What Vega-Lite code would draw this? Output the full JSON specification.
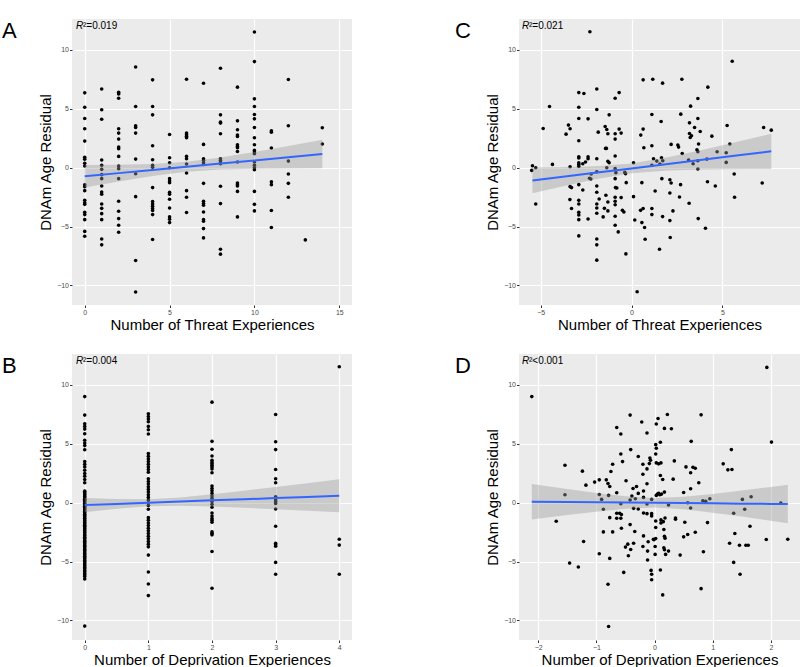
{
  "$schema": "https://vega.github.io/schema/vega-lite/v6.json",
  "background": "white",
  "padding": {"left": 2, "top": 19, "right": 0, "bottom": 0},
  "columns": 2,
  "spacing": {"row": 49, "column": 167},
  "bounds": "flush",
  "config": {
    "font": "Liberation Sans",
    "view": {"fill": "#EBEBEB", "stroke": null},
    "axis": {"domain": false, "grid": true, "gridColor": "#FFFFFF", "gridWidth": 1.2, "tickColor": "#333333", "tickSize": 2.5, "labelColor": "#4D4D4D", "labelFontSize": 7, "labelPadding": 1, "titleFontSize": 15, "titleFontWeight": "normal", "titleColor": "#000000"},
    "axisX": {"titlePadding": 1.5},
    "axisY": {"titlePadding": 3},
    "title": {"fontSize": 22, "fontWeight": "normal", "color": "#000000", "anchor": "start", "frame": "group", "baseline": "alphabetic", "offset": 0}
  },
  "datasets": {
    "A": [
      {"x":0,"y":6.36},{"x":0,"y":5.14},{"x":0,"y":4.18},{"x":0,"y":3.31},{"x":0,"y":2.26},{"x":0,"y":0.88},{"x":0,"y":0.72},{"x":0,"y":0.38},{"x":0,"y":0.15},{"x":0,"y":-1.45},{"x":0,"y":-1.62},{"x":0,"y":-1.95},{"x":0,"y":-2.77},{"x":0,"y":-2.97},{"x":0,"y":-3.11},{"x":0,"y":-3.78},{"x":0,"y":-3.98},{"x":0,"y":-4.41},{"x":0,"y":-5.41},{"x":0,"y":-5.82},
      {"x":1,"y":6.69},{"x":1,"y":4.92},{"x":1,"y":4.12},{"x":1,"y":0.65},{"x":1,"y":0.2},{"x":1,"y":-0.14},{"x":1,"y":-0.59},{"x":1,"y":-0.93},{"x":1,"y":-1.55},{"x":1,"y":-2.06},{"x":1,"y":-2.26},{"x":1,"y":-3.08},{"x":1,"y":-3.45},{"x":1,"y":-3.9},{"x":1,"y":-4.41},{"x":1,"y":-6.05},{"x":1,"y":-6.55},
      {"x":2,"y":6.41},{"x":2,"y":6.27},{"x":2,"y":5.9},{"x":2,"y":3.31},{"x":2,"y":2.94},{"x":2,"y":2.43},{"x":2,"y":1.75},{"x":2,"y":1.61},{"x":2,"y":0.96},{"x":2,"y":0.14},{"x":2,"y":-0.08},{"x":2,"y":-0.93},{"x":2,"y":-2.85},{"x":2,"y":-3.7},{"x":2,"y":-4.32},{"x":2,"y":-4.89},{"x":2,"y":-5.48},
      {"x":3,"y":8.55},{"x":3,"y":5.2},{"x":3,"y":3.56},{"x":3,"y":3.42},{"x":3,"y":2.94},{"x":3,"y":0.73},{"x":3,"y":-0.51},{"x":3,"y":-2.46},{"x":3,"y":-7.88},{"x":3,"y":-10.56},
      {"x":4,"y":7.46},{"x":4,"y":5.2},{"x":4,"y":4.49},{"x":4,"y":1.86},{"x":4,"y":0.68},{"x":4,"y":0.2},{"x":4,"y":0.03},{"x":4,"y":-1.69},{"x":4,"y":-2.88},{"x":4,"y":-3.08},{"x":4,"y":-3.28},{"x":4,"y":-3.47},{"x":4,"y":-3.64},{"x":4,"y":-3.98},{"x":4,"y":-6.1},
      {"x":5,"y":2.82},{"x":5,"y":0.85},{"x":5,"y":0.42},{"x":5,"y":0.0},{"x":5,"y":-0.93},{"x":5,"y":-1.13},{"x":5,"y":-1.27},{"x":5,"y":-2.09},{"x":5,"y":-2.26},{"x":5,"y":-2.68},{"x":5,"y":-3.42},{"x":5,"y":-4.18},{"x":5,"y":-4.38},{"x":5,"y":-4.66},
      {"x":6,"y":7.51},{"x":6,"y":2.94},{"x":6,"y":2.8},{"x":6,"y":2.68},{"x":6,"y":2.54},{"x":6,"y":0.96},{"x":6,"y":0.76},{"x":6,"y":0.31},{"x":6,"y":-0.45},{"x":6,"y":-1.95},{"x":6,"y":-2.51},{"x":6,"y":-3.81},
      {"x":7,"y":7.17},{"x":7,"y":1.98},{"x":7,"y":0.76},{"x":7,"y":0.62},{"x":7,"y":0.42},{"x":7,"y":0.28},{"x":7,"y":-1.33},{"x":7,"y":-2.85},{"x":7,"y":-3.05},{"x":7,"y":-3.19},{"x":7,"y":-3.76},{"x":7,"y":-4.41},{"x":7,"y":-4.55},{"x":7,"y":-5.17},{"x":7,"y":-5.96},
      {"x":8,"y":8.45},{"x":8,"y":4.49},{"x":8,"y":3.87},{"x":8,"y":3.79},{"x":8,"y":2.88},{"x":8,"y":0.76},{"x":8,"y":0.62},{"x":8,"y":0.48},{"x":8,"y":0.34},{"x":8,"y":-1.58},{"x":8,"y":-3.05},{"x":8,"y":-6.92},{"x":8,"y":-7.34},
      {"x":9,"y":6.84},{"x":9,"y":3.98},{"x":9,"y":3.22},{"x":9,"y":2.77},{"x":9,"y":2.66},{"x":9,"y":1.95},{"x":9,"y":1.81},{"x":9,"y":1.69},{"x":9,"y":1.38},{"x":9,"y":0.48},{"x":9,"y":-1.3},{"x":9,"y":-1.44},{"x":9,"y":-1.55},{"x":9,"y":-2.01},{"x":9,"y":-4.18},
      {"x":10,"y":11.53},{"x":10,"y":9.01},{"x":10,"y":5.85},{"x":10,"y":5.2},{"x":10,"y":4.52},{"x":10,"y":4.15},{"x":10,"y":3.42},{"x":10,"y":2.54},{"x":10,"y":1.95},{"x":10,"y":1.47},{"x":10,"y":1.33},{"x":10,"y":1.19},{"x":10,"y":0.48},{"x":10,"y":0.2},{"x":10,"y":0.0},{"x":10,"y":-0.17},{"x":10,"y":-2.01},{"x":10,"y":-3.11},{"x":10,"y":-3.67},
      {"x":11,"y":3.14},{"x":11,"y":3.02},{"x":11,"y":1.67},{"x":11,"y":-1.19},{"x":11,"y":-1.44},{"x":11,"y":-3.64},{"x":11,"y":-5.08},
      {"x":12,"y":7.49},{"x":12,"y":3.56},{"x":12,"y":0.56},{"x":12,"y":-0.54},{"x":12,"y":-1.33},{"x":12,"y":-2.51},
      {"x":13,"y":-6.13},
      {"x":14,"y":3.39},{"x":14,"y":2.01}
    ],
    "Aband": [
      {"x":0,"lo":-1.68,"fit":-0.73,"hi":0.22},{"x":2,"lo":-1.17,"fit":-0.46,"hi":0.25},{"x":4,"lo":-0.70,"fit":-0.19,"hi":0.32},{"x":6,"lo":-0.34,"fit":0.08,"hi":0.50},{"x":8,"lo":-0.16,"fit":0.35,"hi":0.86},{"x":10,"lo":-0.09,"fit":0.62,"hi":1.33},{"x":12,"lo":-0.06,"fit":0.89,"hi":1.84},{"x":14,"lo":-0.05,"fit":1.16,"hi":2.37}
    ],
    "B": [
      {"x":0,"y":9.01},{"x":0,"y":7.44},{"x":0,"y":6.7},{"x":0,"y":6.48},{"x":0,"y":6.25},{"x":0,"y":5.86},{"x":0,"y":5.3},{"x":0,"y":5.07},{"x":0,"y":4.85},{"x":0,"y":4.5},{"x":0,"y":3.49},{"x":0,"y":3.27},{"x":0,"y":3.04},{"x":0,"y":2.76},{"x":0,"y":2.48},{"x":0,"y":2.25},{"x":0,"y":1.97},{"x":0,"y":1.69},
      {"x":0,"y":0.98},{"x":0,"y":0.86},{"x":0,"y":0.74},{"x":0,"y":0.65},{"x":0,"y":0.52},{"x":0,"y":0.41},{"x":0,"y":0.30},{"x":0,"y":0.18},{"x":0,"y":0.08},{"x":0,"y":-0.05},{"x":0,"y":-0.16},{"x":0,"y":-0.29},{"x":0,"y":-0.40},{"x":0,"y":-0.52},{"x":0,"y":-0.61},{"x":0,"y":-0.75},{"x":0,"y":-0.86},{"x":0,"y":-0.99},{"x":0,"y":-1.11},{"x":0,"y":-1.20},{"x":0,"y":-1.33},{"x":0,"y":-1.46},{"x":0,"y":-1.55},{"x":0,"y":-1.68},{"x":0,"y":-1.79},{"x":0,"y":-1.91},{"x":0,"y":-2.02},{"x":0,"y":-2.14},{"x":0,"y":-2.23},{"x":0,"y":-2.37},{"x":0,"y":-2.48},{"x":0,"y":-2.58},{"x":0,"y":-2.72},{"x":0,"y":-2.81},{"x":0,"y":-2.94},{"x":0,"y":-3.05},{"x":0,"y":-3.17},{"x":0,"y":-3.27},{"x":0,"y":-3.40},{"x":0,"y":-3.50},{"x":0,"y":-3.63},{"x":0,"y":-3.75},{"x":0,"y":-3.84},{"x":0,"y":-3.98},{"x":0,"y":-4.08},{"x":0,"y":-4.19},{"x":0,"y":-4.32},{"x":0,"y":-4.42},{"x":0,"y":-4.55},{"x":0,"y":-4.67},{"x":0,"y":-4.77},{"x":0,"y":-4.90},{"x":0,"y":-5.02},{"x":0,"y":-5.12},{"x":0,"y":-5.26},{"x":0,"y":-5.37},{"x":0,"y":-5.51},{"x":0,"y":-5.61},{"x":0,"y":-5.76},{"x":0,"y":-5.86},{"x":0,"y":-6.01},{"x":0,"y":-6.14},{"x":0,"y":-6.27},{"x":0,"y":-6.48},{"x":0,"y":-10.48},
      {"x":1,"y":7.55},{"x":1,"y":7.32},{"x":1,"y":7.1},{"x":1,"y":6.87},{"x":1,"y":6.48},{"x":1,"y":6.2},{"x":1,"y":5.83},{"x":1,"y":4.17},{"x":1,"y":3.94},{"x":1,"y":3.72},{"x":1,"y":3.49},{"x":1,"y":3.27},{"x":1,"y":3.04},{"x":1,"y":2.82},{"x":1,"y":2.59},{"x":1,"y":2.03},{"x":1,"y":1.8},{"x":1,"y":1.58},{"x":1,"y":1.35},{"x":1,"y":1.13},{"x":1,"y":0.9},{"x":1,"y":0.68},{"x":1,"y":0.45},{"x":1,"y":0.23},{"x":1,"y":0.0},{"x":1,"y":-0.23},{"x":1,"y":-0.56},{"x":1,"y":-1.27},{"x":1,"y":-1.49},{"x":1,"y":-1.72},{"x":1,"y":-1.94},{"x":1,"y":-2.17},{"x":1,"y":-2.39},{"x":1,"y":-2.62},{"x":1,"y":-2.85},{"x":1,"y":-3.07},{"x":1,"y":-3.3},{"x":1,"y":-3.52},{"x":1,"y":-3.75},{"x":1,"y":-4.45},{"x":1,"y":-5.89},{"x":1,"y":-6.9},{"x":1,"y":-7.89},
      {"x":2,"y":8.54},{"x":2,"y":5.21},{"x":2,"y":4.54},{"x":2,"y":3.97},{"x":2,"y":3.61},{"x":2,"y":3.46},{"x":2,"y":3.32},{"x":2,"y":3.18},{"x":2,"y":3.04},{"x":2,"y":2.87},{"x":2,"y":2.54},{"x":2,"y":1.41},{"x":2,"y":1.21},{"x":2,"y":1.01},{"x":2,"y":0.79},{"x":2,"y":0.56},{"x":2,"y":0.37},{"x":2,"y":0.11},{"x":2,"y":-0.14},{"x":2,"y":-0.39},{"x":2,"y":-0.87},{"x":2,"y":-1.13},{"x":2,"y":-1.35},{"x":2,"y":-1.49},{"x":2,"y":-1.66},{"x":2,"y":-2.48},{"x":2,"y":-2.62},{"x":2,"y":-2.73},{"x":2,"y":-4.14},{"x":2,"y":-7.27},
      {"x":3,"y":7.49},{"x":3,"y":5.18},{"x":3,"y":4.51},{"x":3,"y":2.82},{"x":3,"y":2.03},{"x":3,"y":1.69},{"x":3,"y":0.51},{"x":3,"y":0.37},{"x":3,"y":0.23},{"x":3,"y":0.08},{"x":3,"y":-0.06},{"x":3,"y":-0.54},{"x":3,"y":-2.0},{"x":3,"y":-3.44},{"x":3,"y":-3.58},{"x":3,"y":-3.69},{"x":3,"y":-5.07},{"x":3,"y":-6.08},
      {"x":4,"y":11.55},{"x":4,"y":-3.1},{"x":4,"y":-3.6},{"x":4,"y":-6.08}
    ],
    "Bband": [
      {"x":0,"lo":-0.80,"fit":-0.20,"hi":0.40},{"x":0.5,"lo":-0.51,"fit":-0.10,"hi":0.31},{"x":1,"lo":-0.31,"fit":0.0,"hi":0.30},{"x":1.5,"lo":-0.26,"fit":0.10,"hi":0.45},{"x":2,"lo":-0.33,"fit":0.20,"hi":0.72},{"x":2.5,"lo":-0.43,"fit":0.29,"hi":1.02},{"x":3,"lo":-0.56,"fit":0.39,"hi":1.34},{"x":3.5,"lo":-0.68,"fit":0.49,"hi":1.66},{"x":4,"lo":-0.81,"fit":0.59,"hi":1.99}
    ],
    "C": [
      {"x":-2.29,"y":11.55},{"x":-2.9,"y":6.38},{"x":-2.62,"y":6.3},{"x":-1.91,"y":6.69},{"x":-4.51,"y":5.2},{"x":-2.9,"y":5.14},{"x":-1.91,"y":4.94},{"x":-0.9,"y":5.9},{"x":-0.68,"y":6.38},{"x":-2.9,"y":4.18},{"x":-2.39,"y":4.15},{"x":-1.23,"y":4.49},{"x":-4.86,"y":3.33},{"x":-3.47,"y":3.62},{"x":-3.38,"y":3.31},{"x":-3.6,"y":2.85},{"x":-1.83,"y":3.02},{"x":-1.45,"y":3.5},{"x":-1.36,"y":3.25},{"x":-1.3,"y":2.88},{"x":-0.9,"y":2.88},{"x":-0.68,"y":3.28},{"x":-0.57,"y":2.94},{"x":-0.9,"y":2.43},{"x":-1.43,"y":1.64},{"x":-1.38,"y":1.64},{"x":-2.9,"y":2.29},{"x":-0.9,"y":0.99},{"x":-1.91,"y":0.76},{"x":-2.9,"y":0.93},{"x":-2.9,"y":0.82},{"x":-2.9,"y":0.42},{"x":-2.9,"y":0.28},{"x":-2.9,"y":0.11},{"x":-2.68,"y":0.34},{"x":-2.53,"y":0.48},{"x":-2.39,"y":0.93},{"x":-2.39,"y":0.76},{"x":-3.38,"y":0.08},{"x":-4.35,"y":0.28},{"x":-5.45,"y":0.17},{"x":-5.49,"y":-0.23},{"x":-5.27,"y":0.0},{"x":-5.27,"y":-3.08},{"x":-3.38,"y":-1.61},{"x":-3.3,"y":-1.69},{"x":-2.9,"y":-1.44},{"x":-2.68,"y":-1.89},{"x":-3.39,"y":-2.71},{"x":-3.3,"y":-3.47},{"x":-2.9,"y":-2.77},{"x":-2.9,"y":-3.08},{"x":-2.9,"y":-3.79},{"x":-2.9,"y":-4.01},{"x":-2.9,"y":-4.41},{"x":-2.39,"y":-4.35},{"x":-2.9,"y":-5.79},{"x":-2.31,"y":-0.9},{"x":-2.24,"y":-0.96},{"x":-1.91,"y":-0.34},{"x":-2.22,"y":-0.54},{"x":-1.91,"y":-1.55},{"x":-1.91,"y":-2.09},{"x":-1.78,"y":-2.66},{"x":-1.91,"y":-3.08},{"x":-1.91,"y":-3.42},{"x":-1.91,"y":-3.87},{"x":-1.56,"y":-4.18},{"x":-1.91,"y":-6.05},{"x":-1.91,"y":-6.55},{"x":-1.91,"y":-7.85},{"x":-1.3,"y":0.54},{"x":-1.23,"y":0.42},{"x":-1.36,"y":0.0},{"x":-1.41,"y":-2.34},{"x":-1.3,"y":-2.91},{"x":-1.49,"y":-3.45},{"x":-1.3,"y":-3.67},{"x":-0.9,"y":-0.08},{"x":-0.86,"y":-0.42},{"x":-0.9,"y":-0.93},{"x":-0.88,"y":-1.69},{"x":-0.9,"y":-2.51},{"x":-0.9,"y":-2.85},{"x":-0.9,"y":-3.14},{"x":-0.9,"y":-4.12},{"x":-0.9,"y":-4.89},{"x":-0.73,"y":-5.45},{"x":-0.81,"y":-1.72},{"x":-0.57,"y":-2.54},{"x":-0.5,"y":-3.62},{"x":-0.42,"y":-3.76},{"x":-0.37,"y":-0.4},{"x":-0.33,"y":-0.51},{"x":-0.31,"y":-7.32},{"x":-0.29,"y":-1.27},{"x":0.11,"y":0.42},{"x":0.11,"y":-2.46},{"x":0.18,"y":-4.44},{"x":0.31,"y":-10.54},{"x":0.5,"y":-3.62},{"x":0.64,"y":-3.47},{"x":0.57,"y":-4.66},{"x":0.72,"y":-5.08},{"x":0.75,"y":-6.07},{"x":0.57,"y":-1.27},{"x":1.3,"y":-1.98},{"x":0.64,"y":7.46},{"x":1.17,"y":7.51},{"x":1.12,"y":4.52},{"x":0.64,"y":3.28},{"x":0.51,"y":2.77},{"x":0.68,"y":1.69},{"x":1.12,"y":1.86},{"x":1.21,"y":0.76},{"x":1.12,"y":0.2},{"x":1.54,"y":-6.92},{"x":1.12,"y":-3.47},{"x":1.12,"y":-3.98},
      {"x":5.54,"y":9.04},{"x":1.71,"y":7.18},{"x":2.77,"y":7.51},{"x":4.2,"y":6.84},{"x":3.65,"y":5.88},{"x":3.25,"y":5.23},{"x":2.71,"y":4.55},{"x":3.65,"y":4.18},{"x":1.63,"y":3.93},{"x":3.19,"y":3.81},{"x":3.47,"y":3.42},{"x":3.19,"y":2.91},{"x":3.3,"y":2.71},{"x":3.23,"y":2.57},{"x":3.78,"y":3.08},{"x":4.42,"y":2.68},{"x":5.26,"y":3.59},{"x":7.27,"y":3.42},{"x":7.69,"y":3.19},{"x":5.41,"y":2.01},{"x":2.18,"y":1.98},{"x":2.55,"y":1.92},{"x":2.59,"y":1.75},{"x":3.69,"y":2.01},{"x":2.79,"y":1.21},{"x":3.6,"y":1.53},{"x":3.65,"y":1.36},{"x":4.71,"y":1.36},{"x":5.21,"y":1.27},{"x":4.15,"y":0.73},{"x":3.14,"y":0.65},{"x":3.39,"y":0.34},{"x":3.65,"y":0.59},{"x":5.21,"y":0.45},{"x":3.65,"y":-0.11},{"x":1.65,"y":0.85},{"x":1.72,"y":0.59},{"x":1.39,"y":0.56},{"x":1.56,"y":0.31},{"x":1.67,"y":-0.93},{"x":2.11,"y":-1.02},{"x":2.18,"y":-1.3},{"x":2.7,"y":-1.44},{"x":4.18,"y":-1.19},{"x":4.61,"y":-1.55},{"x":5.65,"y":-0.54},{"x":7.19,"y":-1.3},{"x":5.67,"y":-2.51},{"x":2.11,"y":-2.15},{"x":2.64,"y":-2.49},{"x":3.17,"y":-3.02},{"x":2.28,"y":-3.67},{"x":1.71,"y":-4.15},{"x":2.11,"y":-4.49},{"x":3.67,"y":-4.32},{"x":4.07,"y":-5.14},{"x":2.13,"y":-5.93}
    ],
    "Cband": [
      {"x":-5.45,"lo":-2.17,"fit":-1.08,"hi":0.02},{"x":-4,"lo":-1.67,"fit":-0.81,"hi":0.04},{"x":-2,"lo":-0.99,"fit":-0.43,"hi":0.13},{"x":0,"lo":-0.47,"fit":-0.06,"hi":0.36},{"x":2,"lo":-0.24,"fit":0.32,"hi":0.88},{"x":4,"lo":-0.16,"fit":0.70,"hi":1.55},{"x":6,"lo":-0.12,"fit":1.07,"hi":2.27},{"x":7.69,"lo":-0.10,"fit":1.39,"hi":2.88}
    ],
    "D": [
      {"x":-2.11,"y":9.01},{"x":-1.54,"y":3.18},{"x":-1.54,"y":0.68},{"x":-1.69,"y":-1.58},{"x":-1.46,"y":-5.13},{"x":-1.31,"y":-5.46},{"x":-1.24,"y":2.68},{"x":-1.18,"y":1.49},{"x":-1.22,"y":-3.3},{"x":-1.03,"y":1.75},{"x":-0.95,"y":1.94},{"x":-0.95,"y":0.7},{"x":-0.91,"y":0.28},{"x":-0.88,"y":-0.56},{"x":-0.88,"y":-2.48},{"x":-0.95,"y":-4.34},{"x":-0.83,"y":1.94},{"x":-0.8,"y":1.63},{"x":-0.77,"y":1.38},{"x":-0.79,"y":0.62},{"x":-0.72,"y":3.27},{"x":-0.75,"y":2.65},{"x":-0.77,"y":-1.27},{"x":-0.72,"y":-2.48},{"x":-0.77,"y":-4.73},{"x":-0.8,"y":-6.93},{"x":-0.79,"y":-10.51},{"x":-0.65,"y":6.39},{"x":-0.58,"y":5.83},{"x":-0.58,"y":4.14},{"x":-0.55,"y":3.49},{"x":-0.65,"y":0.85},{"x":-0.65,"y":-0.9},{"x":-0.6,"y":-0.9},{"x":-0.58,"y":-1.32},{"x":-0.65,"y":-1.32},{"x":-0.57,"y":-1.01},{"x":-0.57,"y":-2.17},{"x":-0.58,"y":-0.08},{"x":-0.53,"y":-5.92},{"x":-0.49,"y":1.86},{"x":-0.42,"y":7.44},{"x":-0.41,"y":4.51},{"x":-0.46,"y":-3.52},{"x":-0.5,"y":-3.77},{"x":-0.45,"y":-4.51},{"x":-0.41,"y":-3.97},{"x":-0.42,"y":-1.86},{"x":-0.42,"y":0.23},{"x":-0.39,"y":0.56},{"x":-0.37,"y":1.21},{"x":-0.31,"y":1.38},{"x":-0.33,"y":0.34},{"x":-0.36,"y":-0.48},{"x":-0.34,"y":-2.45},{"x":-0.36,"y":-3.44},{"x":-0.28,"y":-0.54},{"x":-0.28,"y":3.92},{"x":-0.28,"y":0.79},{"x":-0.22,"y":6.85},{"x":-0.2,"y":3.27},{"x":-0.2,"y":2.42},{"x":-0.19,"y":0.99},{"x":-0.19,"y":0.45},{"x":-0.19,"y":-0.87},{"x":-0.19,"y":-2.82},{"x":-0.2,"y":-3.72},{"x":-0.13,"y":5.92},{"x":-0.13,"y":2.87},{"x":-0.13,"y":1.61},{"x":-0.13,"y":-0.11},{"x":-0.13,"y":-0.93},{"x":-0.11,"y":-3.32},{"x":-0.12,"y":-4.11},{"x":-0.12,"y":-4.87},{"x":-0.08,"y":3.8},{"x":-0.07,"y":3.61},{"x":-0.09,"y":3.32},{"x":-0.05,"y":0.28},{"x":-0.05,"y":-0.93},{"x":-0.05,"y":-1.13},{"x":-0.06,"y":-5.75},{"x":-0.05,"y":-6.08},{"x":-0.05,"y":-6.54},{"x":-0.02,"y":-3.1},{"x":-0.01,"y":-3.15},{"x":0.02,"y":-3.04},{"x":0.01,"y":-4.39},{"x":0.01,"y":-3.72},{"x":0.02,"y":-1.55},{"x":0.02,"y":-2.11},{"x":0.03,"y":0.62},{"x":0.03,"y":6.68},{"x":0.02,"y":4.93},{"x":0.03,"y":4.62},{"x":0.02,"y":4.14},{"x":0.03,"y":3.38},{"x":0.05,"y":0.73},{"x":0.07,"y":0.79},{"x":0.09,"y":0.68},{"x":0.12,"y":0.73},{"x":0.06,"y":7.15},{"x":0.07,"y":3.3},{"x":0.11,"y":3.38},{"x":0.1,"y":5.13},{"x":0.1,"y":2.31},{"x":0.14,"y":1.97},{"x":0.11,"y":-1.46},{"x":0.11,"y":-1.72},{"x":0.15,"y":-1.61},{"x":0.16,"y":-2.28},{"x":0.17,"y":-2.85},{"x":0.18,"y":-3.01},{"x":0.16,"y":-3.83},{"x":0.17,"y":-4.0},{"x":0.19,"y":-4.39},{"x":0.14,"y":-7.83},{"x":0.1,"y":-5.72},{"x":0.17,"y":6.31},{"x":0.18,"y":-1.3},{"x":0.17,"y":0.9},{"x":0.22,"y":7.49},{"x":0.24,"y":-0.2},{"x":0.24,"y":-4.11},{"x":0.29,"y":6.28},{"x":0.32,"y":2.0},{"x":0.34,"y":3.55},{"x":0.36,"y":-1.3},{"x":0.36,"y":-1.41},{"x":0.44,"y":-4.45},{"x":0.5,"y":0.87},{"x":0.52,"y":-1.66},{"x":0.5,"y":-2.9},{"x":0.54,"y":3.04},{"x":0.57,"y":0.0},{"x":0.57,"y":-2.7},{"x":0.63,"y":5.21},{"x":0.62,"y":2.54},{"x":0.62,"y":1.18},{"x":0.62,"y":-0.45},{"x":0.66,"y":3.01},{"x":0.7,"y":2.93},{"x":0.7,"y":-2.51},{"x":0.76,"y":1.69},{"x":0.8,"y":7.46},{"x":0.8,"y":-7.3},{"x":0.83,"y":0.17},{"x":0.88,"y":0.11},{"x":0.84,"y":-4.17},{"x":0.91,"y":-1.69},{"x":0.95,"y":0.34},{"x":1.18,"y":3.3},{"x":1.26,"y":2.79},{"x":1.33,"y":2.82},{"x":1.32,"y":4.51},{"x":1.29,"y":-3.44},{"x":1.36,"y":-0.9},{"x":1.38,"y":-2.62},{"x":1.36,"y":-5.07},{"x":1.46,"y":-3.61},{"x":1.47,"y":-6.08},{"x":1.51,"y":0.28},{"x":1.55,"y":-0.56},{"x":1.57,"y":-3.61},{"x":1.61,"y":-3.61},{"x":1.64,"y":-2.0},{"x":1.66,"y":0.51},{"x":1.92,"y":-3.13},{"x":1.93,"y":11.49},{"x":2.01,"y":5.15},{"x":2.17,"y":-0.03},{"x":2.29,"y":-3.1}
    ],
    "Dband": [
      {"x":-2.11,"lo":-1.43,"fit":0.08,"hi":1.59},{"x":-1.5,"lo":-1.05,"fit":0.05,"hi":1.16},{"x":-1,"lo":-0.76,"fit":0.03,"hi":0.83},{"x":-0.5,"lo":-0.52,"fit":0.01,"hi":0.54},{"x":0,"lo":-0.41,"fit":-0.01,"hi":0.39},{"x":0.5,"lo":-0.56,"fit":-0.03,"hi":0.50},{"x":1,"lo":-0.85,"fit":-0.05,"hi":0.74},{"x":1.5,"lo":-1.18,"fit":-0.08,"hi":1.03},{"x":2,"lo":-1.53,"fit":-0.10,"hi":1.34},{"x":2.29,"lo":-1.74,"fit":-0.11,"hi":1.52}
    ]
  },
  "concat": [
    {
      "width": 280, "height": 286,
      "title": {"text": "A", "dx": -70, "dy": 28},
      "resolve": {"axis": {"x": "independent", "y": "independent"}},
      "layer": [
        {"data": {"name": "A"}, "mark": {"type": "circle", "size": 13, "color": "#000000", "opacity": 1},
         "encoding": {
           "x": {"field": "x", "type": "quantitative", "scale": {"domain": [-0.75, 15.75], "nice": false, "zero": false}, "axis": {"orient": "bottom", "values": [0, 5, 10, 15], "title": "Number of Threat Experiences"}},
           "y": {"field": "y", "type": "quantitative", "scale": {"domain": [-11.66, 12.63], "nice": false, "zero": false}, "axis": {"orient": "left", "values": [-10, -5, 0, 5, 10], "title": "DNAm Age Residual"}}}},
        {"data": {"name": "Aband"}, "mark": {"type": "area", "color": "#999999", "opacity": 0.4},
         "encoding": {
           "x": {"field": "x", "type": "quantitative", "axis": {"orient": "bottom", "values": [2.5, 7.5, 12.5], "gridWidth": 0.6, "labels": false, "ticks": false, "domain": false, "title": null}},
           "y": {"field": "lo", "type": "quantitative", "axis": {"orient": "left", "values": [-7.5, -2.5, 2.5, 7.5], "gridWidth": 0.6, "labels": false, "ticks": false, "domain": false, "title": null}},
           "y2": {"field": "hi"}}},
        {"data": {"name": "Aband"}, "mark": {"type": "line", "color": "#3366FF", "strokeWidth": 2},
         "encoding": {"x": {"field": "x", "type": "quantitative", "axis": null}, "y": {"field": "fit", "type": "quantitative", "axis": null}}},
        {"data": {"values": [{"t": "R", "s": "²=0.019"}]}, "mark": {"type": "text", "align": "left", "baseline": "top", "fontStyle": "italic", "fontSize": 10, "dx": 4, "dy": 2, "color": "#000000"},
         "encoding": {"x": {"datum": -0.75, "type": "quantitative", "axis": null}, "y": {"datum": 12.63, "type": "quantitative", "axis": null}, "text": {"field": "t"}}},
        {"data": {"values": [{"t": "R", "s": "²=0.019"}]}, "mark": {"type": "text", "align": "left", "baseline": "top", "fontSize": 10, "dx": 11, "dy": 2, "color": "#000000"},
         "encoding": {"x": {"datum": -0.75, "type": "quantitative", "axis": null}, "y": {"datum": 12.63, "type": "quantitative", "axis": null}, "text": {"field": "s"}}}
      ]
    },
    {
      "width": 281, "height": 286,
      "title": {"text": "C", "dx": -64, "dy": 28},
      "resolve": {"axis": {"x": "independent", "y": "independent"}},
      "layer": [
        {"data": {"name": "C"}, "mark": {"type": "circle", "size": 13, "color": "#000000", "opacity": 1},
         "encoding": {
           "x": {"field": "x", "type": "quantitative", "scale": {"domain": [-6.19, 9.27], "nice": false, "zero": false}, "axis": {"orient": "bottom", "values": [-5, 0, 5], "title": "Number of Threat Experiences"}},
           "y": {"field": "y", "type": "quantitative", "scale": {"domain": [-11.66, 12.63], "nice": false, "zero": false}, "axis": {"orient": "left", "values": [-10, -5, 0, 5, 10], "title": "DNAm Age Residual"}}}},
        {"data": {"name": "Cband"}, "mark": {"type": "area", "color": "#999999", "opacity": 0.4},
         "encoding": {
           "x": {"field": "x", "type": "quantitative", "axis": {"orient": "bottom", "values": [-2.5, 2.5, 7.5], "gridWidth": 0.6, "labels": false, "ticks": false, "domain": false, "title": null}},
           "y": {"field": "lo", "type": "quantitative", "axis": {"orient": "left", "values": [-7.5, -2.5, 2.5, 7.5], "gridWidth": 0.6, "labels": false, "ticks": false, "domain": false, "title": null}},
           "y2": {"field": "hi"}}},
        {"data": {"name": "Cband"}, "mark": {"type": "line", "color": "#3366FF", "strokeWidth": 2},
         "encoding": {"x": {"field": "x", "type": "quantitative", "axis": null}, "y": {"field": "fit", "type": "quantitative", "axis": null}}},
        {"data": {"values": [{"t": "R", "s": "²=0.021"}]}, "mark": {"type": "text", "align": "left", "baseline": "top", "fontStyle": "italic", "fontSize": 10, "dx": 3, "dy": 2, "color": "#000000"},
         "encoding": {"x": {"datum": -6.19, "type": "quantitative", "axis": null}, "y": {"datum": 12.63, "type": "quantitative", "axis": null}, "text": {"field": "t"}}},
        {"data": {"values": [{"t": "R", "s": "²=0.021"}]}, "mark": {"type": "text", "align": "left", "baseline": "top", "fontSize": 10, "dx": 10, "dy": 2, "color": "#000000"},
         "encoding": {"x": {"datum": -6.19, "type": "quantitative", "axis": null}, "y": {"datum": 12.63, "type": "quantitative", "axis": null}, "text": {"field": "s"}}}
      ]
    },
    {
      "width": 280, "height": 286,
      "title": {"text": "B", "dx": -70, "dy": 28},
      "resolve": {"axis": {"x": "independent", "y": "independent"}},
      "layer": [
        {"data": {"name": "B"}, "mark": {"type": "circle", "size": 13, "color": "#000000", "opacity": 1},
         "encoding": {
           "x": {"field": "x", "type": "quantitative", "scale": {"domain": [-0.2, 4.2], "nice": false, "zero": false}, "axis": {"orient": "bottom", "values": [0, 1, 2, 3, 4], "title": "Number of Deprivation Experiences"}},
           "y": {"field": "y", "type": "quantitative", "scale": {"domain": [-11.66, 12.63], "nice": false, "zero": false}, "axis": {"orient": "left", "values": [-10, -5, 0, 5, 10], "title": "DNAm Age Residual"}}}},
        {"data": {"name": "Bband"}, "mark": {"type": "area", "color": "#999999", "opacity": 0.4},
         "encoding": {
           "x": {"field": "x", "type": "quantitative", "axis": {"orient": "bottom", "values": [0.5, 1.5, 2.5, 3.5], "gridWidth": 0.6, "labels": false, "ticks": false, "domain": false, "title": null}},
           "y": {"field": "lo", "type": "quantitative", "axis": {"orient": "left", "values": [-7.5, -2.5, 2.5, 7.5], "gridWidth": 0.6, "labels": false, "ticks": false, "domain": false, "title": null}},
           "y2": {"field": "hi"}}},
        {"data": {"name": "Bband"}, "mark": {"type": "line", "color": "#3366FF", "strokeWidth": 2},
         "encoding": {"x": {"field": "x", "type": "quantitative", "axis": null}, "y": {"field": "fit", "type": "quantitative", "axis": null}}},
        {"data": {"values": [{"t": "R", "s": "²=0.004"}]}, "mark": {"type": "text", "align": "left", "baseline": "top", "fontStyle": "italic", "fontSize": 10, "dx": 4, "dy": 2, "color": "#000000"},
         "encoding": {"x": {"datum": -0.2, "type": "quantitative", "axis": null}, "y": {"datum": 12.63, "type": "quantitative", "axis": null}, "text": {"field": "t"}}},
        {"data": {"values": [{"t": "R", "s": "²=0.004"}]}, "mark": {"type": "text", "align": "left", "baseline": "top", "fontSize": 10, "dx": 11, "dy": 2, "color": "#000000"},
         "encoding": {"x": {"datum": -0.2, "type": "quantitative", "axis": null}, "y": {"datum": 12.63, "type": "quantitative", "axis": null}, "text": {"field": "s"}}}
      ]
    },
    {
      "width": 281, "height": 286,
      "title": {"text": "D", "dx": -64, "dy": 28},
      "resolve": {"axis": {"x": "independent", "y": "independent"}},
      "layer": [
        {"data": {"name": "D"}, "mark": {"type": "circle", "size": 13, "color": "#000000", "opacity": 1},
         "encoding": {
           "x": {"field": "x", "type": "quantitative", "scale": {"domain": [-2.33, 2.5], "nice": false, "zero": false}, "axis": {"orient": "bottom", "values": [-2, -1, 0, 1, 2], "title": "Number of Deprivation Experiences"}},
           "y": {"field": "y", "type": "quantitative", "scale": {"domain": [-11.66, 12.63], "nice": false, "zero": false}, "axis": {"orient": "left", "values": [-10, -5, 0, 5, 10], "title": "DNAm Age Residual"}}}},
        {"data": {"name": "Dband"}, "mark": {"type": "area", "color": "#999999", "opacity": 0.4},
         "encoding": {
           "x": {"field": "x", "type": "quantitative", "axis": {"orient": "bottom", "values": [-1.5, -0.5, 0.5, 1.5], "gridWidth": 0.6, "labels": false, "ticks": false, "domain": false, "title": null}},
           "y": {"field": "lo", "type": "quantitative", "axis": {"orient": "left", "values": [-7.5, -2.5, 2.5, 7.5], "gridWidth": 0.6, "labels": false, "ticks": false, "domain": false, "title": null}},
           "y2": {"field": "hi"}}},
        {"data": {"name": "Dband"}, "mark": {"type": "line", "color": "#3366FF", "strokeWidth": 2},
         "encoding": {"x": {"field": "x", "type": "quantitative", "axis": null}, "y": {"field": "fit", "type": "quantitative", "axis": null}}},
        {"data": {"values": [{"t": "R", "s": "²<0.001"}]}, "mark": {"type": "text", "align": "left", "baseline": "top", "fontStyle": "italic", "fontSize": 10, "dx": 3, "dy": 2, "color": "#000000"},
         "encoding": {"x": {"datum": -2.33, "type": "quantitative", "axis": null}, "y": {"datum": 12.63, "type": "quantitative", "axis": null}, "text": {"field": "t"}}},
        {"data": {"values": [{"t": "R", "s": "²<0.001"}]}, "mark": {"type": "text", "align": "left", "baseline": "top", "fontSize": 10, "dx": 10, "dy": 2, "color": "#000000"},
         "encoding": {"x": {"datum": -2.33, "type": "quantitative", "axis": null}, "y": {"datum": 12.63, "type": "quantitative", "axis": null}, "text": {"field": "s"}}}
      ]
    }
  ]
}
